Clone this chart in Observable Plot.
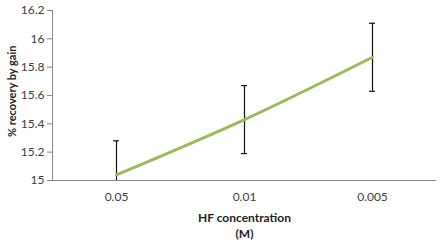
<!DOCTYPE html>
<html>
<head>
<meta charset="utf-8">
<script src="https://cdn.jsdelivr.net/npm/d3@7"></script>
<script src="https://cdn.jsdelivr.net/npm/@observablehq/plot@0.6"></script>
<style>
  html, body { margin: 0; padding: 0; background: #fff; }
  #chart svg { display: block; }
</style>
</head>
<body>
<div id="chart"></div>
<script>
const concentrations = ["0.05", "0.01", "0.005"];
const recovery = [15.04, 15.43, 15.87];
const errors = [0.24, 0.24, 0.24];
const yTicks = [15, 15.2, 15.4, 15.6, 15.8, 16, 16.2];

const data = concentrations.map((c, i) => ({
  c, v: recovery[i], lo: recovery[i] - errors[i], hi: recovery[i] + errors[i]
}));

const font = "Lato, 'Open Sans', sans-serif";
const W = 441, ML = 52, MR = 5;

const chart = Plot.plot({
  width: W,
  height: 245,
  marginLeft: ML,
  marginRight: MR,
  marginTop: 10,
  marginBottom: 65,
  style: { fontFamily: font, fontSize: "12px", color: "#404040", background: "#fff" },
  x: { type: "band", domain: concentrations, padding: 0, axis: null },
  y: { domain: [15, 16.2], axis: null },
  marks: [
    Plot.ruleY([15], { stroke: "#888", strokeWidth: 1 }),
    Plot.ruleX([0], { x: null, y1: 15, y2: 16.2, dx: -(W - ML - MR) / 2, stroke: "#888" }),
    Plot.axisY({ ticks: yTicks, tickSize: 5, tickPadding: 3, tickFormat: d => String(d), stroke: "#888", fill: "#404040", label: null, fontSize: 12 }),
    Plot.axisX({ tickSize: 0, tickPadding: 12, fill: "#404040", label: null, fontSize: 12 }),
    Plot.ruleX(data, { x: "c", y1: "lo", y2: "hi", stroke: "#111", strokeWidth: 1.2, clip: true }),
    Plot.tickY(data, { x: "c", y: "hi", insetLeft: 61, insetRight: 61, stroke: "#111", strokeWidth: 1.2 }),
    Plot.tickY(data.filter(d => d.lo >= 15), { x: "c", y: "lo", insetLeft: 61, insetRight: 61, stroke: "#111", strokeWidth: 1.2 }),
    Plot.line(data, { x: "c", y: "v", stroke: "#9BBB59", strokeWidth: 3, curve: "catmull-rom" }),
    Plot.text(["HF concentration\n(M)"], { frameAnchor: "bottom", dy: 30, lineAnchor: "top", lineHeight: 1.35, fontWeight: "bold", fill: "#222", fontSize: 12 }),
    Plot.text(["% recovery by gain"], { y: [15.63], frameAnchor: "left", textAnchor: "middle", dx: -40, rotate: -90, fontWeight: "bold", fill: "#222", fontSize: 11 })
  ]
});
document.getElementById("chart").appendChild(chart);
</script>
</body>
</html>
